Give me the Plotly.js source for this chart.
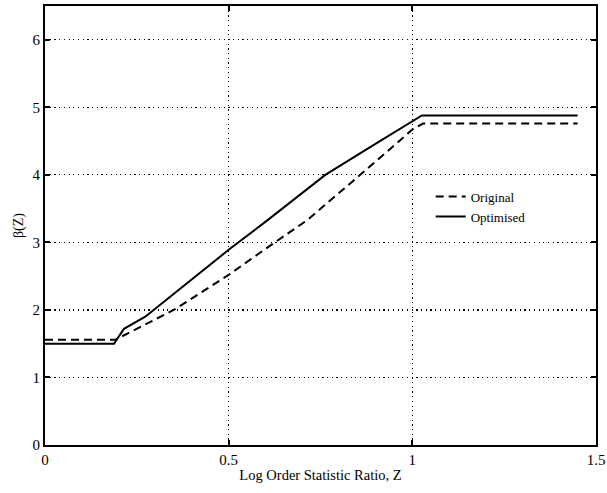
<!DOCTYPE html>
<html>
<head>
<meta charset="utf-8">
<script src="https://cdn.plot.ly/plotly-3.0.1.min.js"></script>
<style>html,body{margin:0;padding:0;background:#fff;}#chart{width:607px;height:493px;}</style>
</head>
<body>
<div id="chart"></div>
<script>
// Original (dashed) curve
var zOriginal = [0, 0.192, 0.354, 0.5, 0.615, 0.714, 0.858, 1.0, 1.029, 1.45];
var betaOriginal = [1.56, 1.56, 2.01, 2.52, 2.96, 3.33, 4.0, 4.67, 4.76, 4.76];
// Optimised (solid) curve
var zOptimised = [0, 0.188, 0.2, 0.215, 0.273, 0.5, 0.606, 0.763, 0.894, 1.0, 1.026, 1.45];
var betaOptimised = [1.5, 1.5, 1.6, 1.72, 1.9, 2.89, 3.33, 4.0, 4.44, 4.79, 4.88, 4.88];
// Tick labels
var xTickVals = [0, 0.5, 1, 1.5];
var xTickText = ['0', '0.5', '1', '1.5'];
var yTickVals = [0, 1, 2, 3, 4, 5, 6];
var yTickText = ['0', '1', '2', '3', '4', '5', '6'];

var serif = 'Liberation Serif, Times New Roman, serif';

var traces = [
  {x: zOriginal, y: betaOriginal, type: 'scatter', mode: 'lines', name: 'Original',
   line: {color: '#000', width: 2, dash: '8px,5px'}},
  {x: zOptimised, y: betaOptimised, type: 'scatter', mode: 'lines', name: 'Optimised',
   line: {color: '#000', width: 2}}
];

var axisCommon = {
  showline: true, mirror: 'ticks', linecolor: '#000', linewidth: 2,
  ticks: 'inside', ticklen: 5, tickwidth: 2, tickcolor: '#000',
  showgrid: true, gridcolor: '#000', gridwidth: 1.2, griddash: '1.2px,3.5px',
  zeroline: false, ticklabeloverflow: 'allow',
  tickfont: {family: serif, size: 15, color: '#000'}
};

var layout = {
  width: 607, height: 493,
  margin: {l: 45, r: 11, t: 6, b: 48},
  paper_bgcolor: '#fff', plot_bgcolor: '#fff',
  font: {family: serif, color: '#000'},
  showlegend: true,
  legend: {x: 0.7, y: 0.6, xanchor: 'left', yanchor: 'top', bgcolor: 'rgba(0,0,0,0)',
           font: {family: serif, size: 13, color: '#000'}, tracegroupgap: 0, itemwidth: 30},
  xaxis: Object.assign({}, axisCommon, {
    range: [0, 1.5], tickvals: xTickVals, ticktext: xTickText,
    title: {text: 'Log Order Statistic Ratio, Z', font: {family: serif, size: 14.5, color: '#000'}, standoff: 3}
  }),
  yaxis: Object.assign({}, axisCommon, {
    range: [0, 6.5], tickvals: yTickVals, ticktext: yTickText,
    title: {text: 'β(Z)', font: {family: serif, size: 14, color: '#000'}, standoff: 6}
  })
};

Plotly.newPlot('chart', traces, layout, {displayModeBar: false, staticPlot: true});
</script>
</body>
</html>
